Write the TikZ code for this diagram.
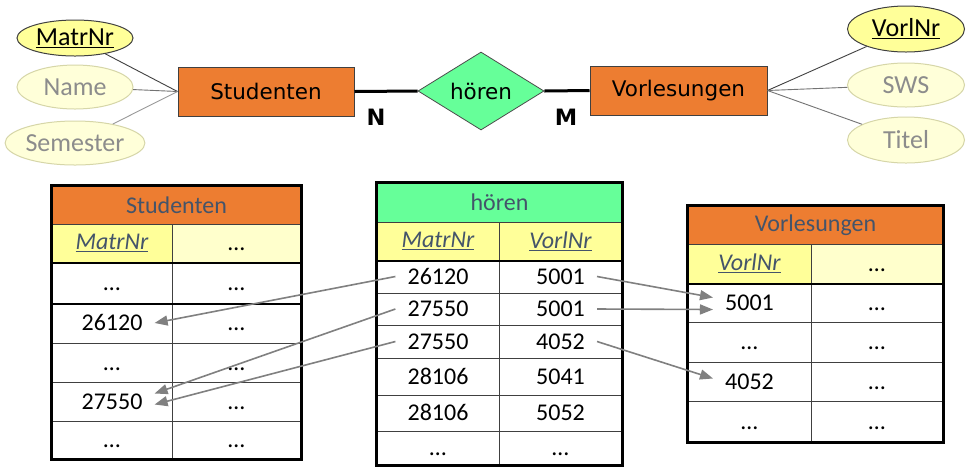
\documentclass[tikz,border=0pt]{standalone}
\usepackage{fontspec}
\usetikzlibrary{shapes.geometric,arrows.meta,calc}
\newfontfamily\calfont{Carlito}
\newfontfamily\dvfont{DejaVu Sans}
\definecolor{orng}{HTML}{ED7D31}
\definecolor{grn}{HTML}{66FF99}
\definecolor{keyyel}{HTML}{FFFF99}
\definecolor{paleyel}{HTML}{FFFFCC}
\definecolor{slate}{HTML}{44546A}
\definecolor{attrtext}{HTML}{8C8C8C}
\definecolor{attrline}{HTML}{D6D6A8}
\definecolor{attrfill}{HTML}{FFFFD9}
\definecolor{arrowgray}{HTML}{808080}
\definecolor{gridline}{HTML}{404040}
\begin{document}
\begin{tikzpicture}[x=1pt,y=-1pt,
 attr/.style={ellipse, minimum width=116, minimum height=44, inner sep=0pt, fill=attrfill, draw=attrline, line width=1pt, text=attrtext, font=\calfont\fontsize{26}{30}\selectfont},
 keyattr/.style={attr, fill=keyyel, draw=black!75, text=black},
 entity/.style={rectangle, minimum width=176, minimum height=49, inner sep=0pt, fill=orng, draw=black!75, line width=1pt, font=\dvfont\fontsize{21.5}{26}\selectfont},
 rel/.style={diamond, minimum width=126, minimum height=78, inner sep=0pt, shape aspect=1.6, fill=grn, draw=black!70, line width=0.8pt, font=\dvfont\fontsize{21.5}{26}\selectfont},
 card/.style={font=\dvfont\bfseries\fontsize{22.5}{26}\selectfont, inner sep=0pt},
 attrlink/.style={line width=0.9pt},
 rellink/.style={line width=3pt},
 ttitle/.style={rectangle, draw=gridline, line width=1pt, inner sep=0pt, text=slate, font=\calfont\fontsize{24}{28}\selectfont},
 cell/.style={rectangle, draw=gridline, line width=1pt, inner sep=0pt, font=\calfont\fontsize{24}{28}\selectfont},
 dotcell/.style={cell, text height=15pt, text depth=0pt},
 txt/.style={inner xsep=12pt, inner ysep=0pt, text height=15pt, text depth=0pt, font=\calfont\fontsize{24}{28}\selectfont},
 keyhd/.style={text=slate, font=\calfont\itshape\fontsize{24}{28}\selectfont},
 outer/.style={draw=black, line width=2.5pt},
 sep/.style={draw=black, line width=2pt},
 ref/.style={draw=arrowgray, line width=1.6pt, -{Triangle[length=13pt,width=10pt]}},
]
\useasboundingbox (0,0) rectangle (973,467);
\fill[white] (0,0) rectangle (973,467);

% ---------- ER diagram ----------
\node[keyattr, minimum height=36] (aMatr) at (75,38) {\underline{MatrNr}};
\node[attr] (aName) at (75,87) {Name};
\node[attr] (aSem) at (75,143) {Semester};
\node[entity] (eStud) at (266,91.5) {Studenten};
\node[rel] (rH) at (481,91) {hören};
\node[entity, minimum width=177] (eVorl) at (678.5,90.5) {Vorlesungen};
\node[keyattr, minimum width=117, minimum height=46] (aVorl) at (906,29) {\underline{VorlNr}};
\node[attr, minimum width=117] (aSWS) at (906,85) {SWS};
\node[attr, minimum width=117, minimum height=46] (aTitel) at (906,140) {Titel};
\node[card] (cN) at (376,117) {N};
\node[card] (cM) at (566,117) {M};

\draw[attrlink, draw=black!75] (aMatr) -- (eStud.west);
\draw[attrlink, draw=black!55] (aName) -- (eStud.west);
\draw[attrlink, draw=black!40] (aSem) -- (eStud.west);
\draw[attrlink, draw=black!75] (aVorl) -- (eVorl.east);
\draw[attrlink, draw=black!55] (aSWS) -- (eVorl.east);
\draw[attrlink, draw=black!55] (aTitel) -- (eVorl.east);
\draw[rellink] (eStud.east) -- (rH.west);
\draw[rellink] (rH.east) -- (eVorl.west);

% ---------- Studenten table ----------
\node[ttitle, fill=orng, minimum width=249, minimum height=38] (sT) at (176.5,205) {Studenten};
\node[cell, fill=keyyel, minimum width=120, minimum height=38, keyhd] (sH1) at (112,243) {\underline{MatrNr}};
\node[dotcell, fill=paleyel, minimum width=129, minimum height=38] (sH2) at (236.5,243) {…};
\foreach \i/\y/\h/\t in {1/282.5/41/…, 2/323/40/26120, 3/362.5/39/…, 4/401.5/39/27550, 5/440/38/…}{
  \node[cell, minimum width=120, minimum height=\h] (sa\i) at (112,\y) {};
  \node[cell, minimum width=129, minimum height=\h] (sb\i) at (236.5,\y) {};
  \node[txt] (sx\i) at (sa\i) {\t};
  \node[txt] (sy\i) at (sb\i) {…};
}
\draw[sep] (sH1.south west) -- (sH2.south east);
\draw[sep] (sa1.south west) -- (sb1.south east);
\draw[outer] (sT.north west) rectangle (sb5.south east);

% ---------- hören table ----------
\node[ttitle, fill=grn, minimum width=245, minimum height=39] (hT) at (499.5,202.5) {hören};
\node[cell, fill=keyyel, minimum width=122, minimum height=38, keyhd] (hH1) at (438,241) {\underline{MatrNr}};
\node[cell, fill=keyyel, minimum width=123, minimum height=38, keyhd] (hH2) at (560.5,241) {\underline{VorlNr}};
\foreach \i/\y/\h/\a/\b in {1/276.5/33/26120/5001, 2/309/32/27550/5001, 3/341.5/33/27550/4052, 4/376.5/37/28106/5041, 5/413/36/28106/5052, 6/448/34/…/…}{
  \node[cell, minimum width=122, minimum height=\h] (ha\i) at (438,\y) {};
  \node[cell, minimum width=123, minimum height=\h] (hb\i) at (560.5,\y) {};
  \node[txt] (hx\i) at (ha\i) {\a};
  \node[txt] (hy\i) at (hb\i) {\b};
}
\draw[sep] (hH1.south west) -- (hH2.south east);
\draw[outer] (hT.north west) rectangle (hb6.south east);

% ---------- Vorlesungen table ----------
\node[ttitle, fill=orng, minimum width=255, minimum height=38] (vT) at (815.5,225) {Vorlesungen};
\node[cell, fill=keyyel, minimum width=123, minimum height=39, keyhd] (vH1) at (749.5,263.5) {\underline{VorlNr}};
\node[dotcell, fill=paleyel, minimum width=132, minimum height=39] (vH2) at (877,263.5) {…};
\foreach \i/\y/\h/\t in {1/302.5/39/5001, 2/342/40/…, 3/381.5/39/4052, 4/421.5/41/…}{
  \node[cell, minimum width=123, minimum height=\h] (va\i) at (749.5,\y) {};
  \node[cell, minimum width=132, minimum height=\h] (vb\i) at (877,\y) {};
  \node[txt] (vx\i) at (va\i) {\t};
  \node[txt] (vy\i) at (vb\i) {…};
}
\draw[sep] (vH1.south west) -- (vH2.south east);
\draw[outer] (vT.north west) rectangle (vb4.south east);

% ---------- references ----------
\draw[ref] (hx1.west) -- (sx2.east);
\draw[ref] (hx2.west) -- ([yshift=8pt]sx4.east);
\draw[ref] (hx3.west) -- ([yshift=-3pt]sx4.east);
\draw[ref] (hy1.east) -- ([yshift=5pt]vx1.west);
\draw[ref] (hy2.east) -- ([yshift=-7pt]vx1.west);
\draw[ref] (hy3.east) -- ([yshift=3pt]vx3.west);
\end{tikzpicture}
\end{document}
